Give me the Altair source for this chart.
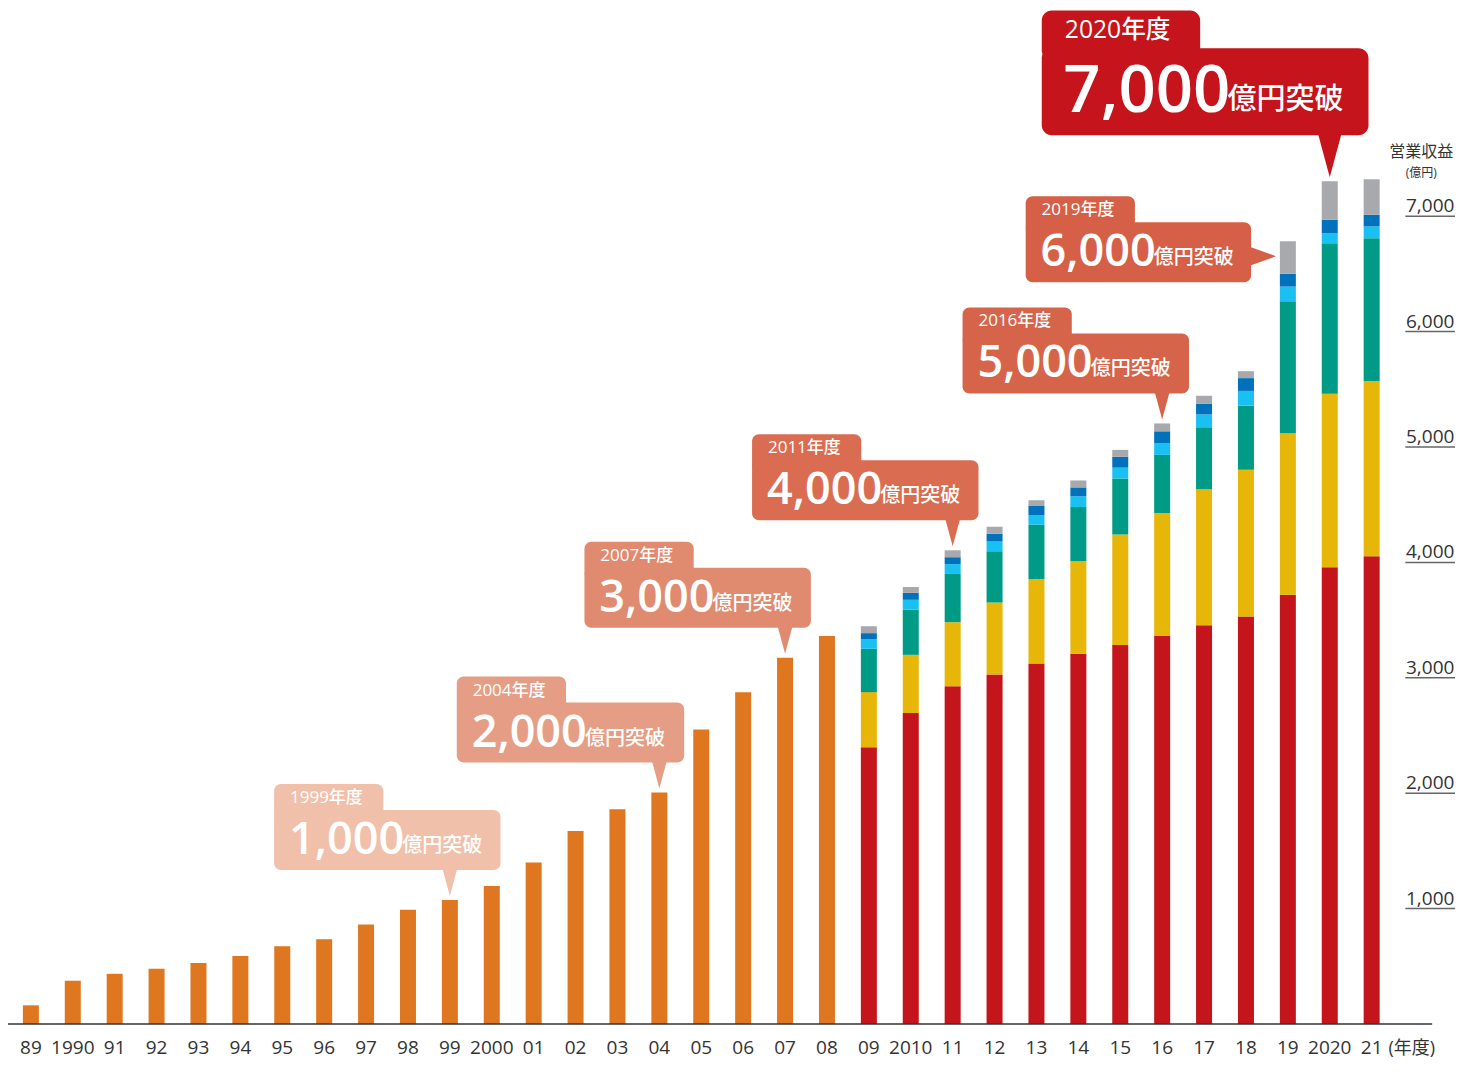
import altair as alt
import pandas as pd

# ---------------- data ----------------
years = list(range(1989, 2022))
year_labels = ["89", "1990", "91", "92", "93", "94", "95", "96", "97", "98", "99",
               "2000", "01", "02", "03", "04", "05", "06", "07", "08", "09",
               "2010", "11", "12", "13", "14", "15", "16", "17", "18", "19", "2020", "21"]

# 1989-2008 single (orange) bars
orange_years = years[:20]
orange_values = [162, 375, 435, 478, 529, 589, 674, 734, 862, 990, 1075, 1195,
                 1399, 1672, 1860, 2005, 2551, 2875, 3174, 3362]

# 2009-2021 stacked segments (bottom -> top)
seg_years = years[20:]
seg_red = [2398, 2696, 2927, 3029, 3123, 3208, 3285, 3362, 3456, 3532, 3720, 3959, 4053]
seg_yellow = [478, 503, 555, 623, 734, 802, 956, 1067, 1177, 1271, 1399, 1502, 1519]
seg_teal = [375, 392, 418, 444, 469, 469, 486, 503, 538, 555, 1143, 1305, 1237]
seg_cyan = [85, 85, 85, 85, 85, 94, 94, 102, 111, 128, 128, 85, 102]
seg_blue = [51, 60, 60, 68, 77, 77, 94, 102, 94, 111, 111, 119, 102]
seg_gray = [60, 51, 60, 60, 51, 60, 60, 68, 68, 60, 282, 333, 307]

right_ticks = [1000, 2000, 3000, 4000, 5000, 6000, 7000]
right_tick_labels = ["1,000", "2,000", "3,000", "4,000", "5,000", "6,000", "7,000"]

callout_years = [1999, 2004, 2007, 2011, 2016, 2019, 2020]
callout_year_text = ["1999年度", "2004年度", "2007年度", "2011年度", "2016年度", "2019年度", "2020年度"]
callout_numbers = ["1,000", "2,000", "3,000", "4,000", "5,000", "6,000", "7,000"]
callout_unit = "億円突破"

# ---------------- styles / layout ----------------
FONT = "Open Sans, Noto Sans CJK JP, sans-serif"
seg_domain = ["total", "red", "yellow", "teal", "cyan", "blue", "gray"]
seg_colors = ["#DE771F", "#C4141C", "#E6B609", "#009B86", "#18C1F1", "#0072BB", "#A8A9AD"]
callout_colors = ["#F0C0AB", "#E59E85", "#E08A70", "#DA6D51", "#D6644A", "#D66047", "#C5141B"]
# (left, right) of the box relative to pointer tip in px, scale factor, gap tip->box
callout_geom = [(-177, 51, 1.0, 26), (-204, 25, 1.0, 26), (-202, 26, 1.0, 26),
                (-202, 26, 1.0, 26), (-201, 27, 1.0, 26), (None, None, 1.0, 26),
                (-290, 39, 1.45, 42)]

W, H = 1452, 1016
PXY = 42.19      # px per year
PXV = 0.1154     # px per unit (億円)
X0 = 1989 - 18 / PXY
X1 = X0 + W / PXY
YMAX = H / PXV


def px_x(d):
    return d / PXY


def px_v(d):
    return d / PXV


xs = alt.Scale(domain=[X0, X1], nice=False, zero=False)
ys = alt.Scale(domain=[0, YMAX], nice=False, zero=True)


def X(field):
    return alt.X(field, scale=xs, axis=None, title=None)


def Y(field, **kw):
    return alt.Y(field, scale=ys, axis=None, title=None, **kw)


# ---------------- bar table ----------------
rows = []
totals = {}
for y, v in zip(orange_years, orange_values):
    rows.append(dict(year=y, seg="total", ord=0, value=v))
    totals[y] = v
segs = [("red", seg_red), ("yellow", seg_yellow), ("teal", seg_teal),
        ("cyan", seg_cyan), ("blue", seg_blue), ("gray", seg_gray)]
for i, y in enumerate(seg_years):
    t = 0
    for k, (name, arr) in enumerate(segs):
        rows.append(dict(year=y, seg=name, ord=k, value=arr[i]))
        t += arr[i]
    totals[y] = t
bars_df = pd.DataFrame(rows)

bars = alt.Chart(bars_df).mark_bar(width=16).encode(
    x=X("year:Q"),
    y=Y("value:Q", stack="zero"),
    color=alt.Color("seg:N", scale=alt.Scale(domain=seg_domain, range=seg_colors), legend=None),
    order=alt.Order("ord:Q", sort="ascending"),
)

# x tick labels as text
xl_df = pd.DataFrame(dict(year=years, t=year_labels, v=0))
xlabels = alt.Chart(xl_df).mark_text(align="center", baseline="alphabetic", dy=30,
                                     fontSize=19, font=FONT, color="#333333").encode(
    x=X("year:Q"), y=Y("v:Q"), text="t:N")

# baseline
base_df = pd.DataFrame([dict(xa=X0 - px_x(8), xb=X0 + px_x(1429), v=0)])
baseline = alt.Chart(base_df).mark_rule(color="#333333", strokeWidth=1.6).encode(
    x=X("xa:Q"), x2="xb:Q", y=Y("v:Q"))

# "(年度)"
unit_x_df = pd.DataFrame([dict(x=1989 + px_x(1393 - 26), v=0, t="(年度)")])
unit_x = alt.Chart(unit_x_df).mark_text(align="left", baseline="alphabetic", dy=30,
                                         fontSize=18, font=FONT, color="#333333").encode(
    x=X("x:Q"), y=Y("v:Q"), text="t:N")

# right axis labels with underline
rt_df = pd.DataFrame(dict(v=right_ticks, t=right_tick_labels))
rt_df["xa"] = 1989 + px_x(1410 - 26)
rt_df["xb"] = 1989 + px_x(1460 - 26)
rt_df["xc"] = 1989 + px_x(1435 - 26)
rt_rules = alt.Chart(rt_df).mark_rule(color="#666666", strokeWidth=1.5).encode(
    x=X("xa:Q"), x2="xb:Q", y=Y("v:Q"))
rt_text = alt.Chart(rt_df).mark_text(align="center", baseline="alphabetic", dy=-4,
                                     fontSize=19, font=FONT, color="#333333").encode(
    x=X("xc:Q"), y=Y("v:Q"), text="t:N")

ytitle_df = pd.DataFrame([
    dict(x=1989 + px_x(1426 - 26), v=right_ticks[-1] + px_v(64), t="営業収益", fs=16),
    dict(x=1989 + px_x(1426 - 26), v=right_ticks[-1] + px_v(43), t="(億円)", fs=12),
])
ytitle = alt.Chart(ytitle_df).mark_text(align="center", baseline="middle", font=FONT,
                                        color="#333333").encode(
    x=X("x:Q"), y=Y("v:Q"), text="t:N",
    size=alt.Size("fs:Q", scale=None, legend=None))

# ---------------- callouts ----------------
box_rows, tab_rows, tip_rows, yr_rows, num_rows, unit_rows = [], [], [], [], [], []
for yr, ytxt, num, col, (l, r, s, gap) in zip(callout_years, callout_year_text,
                                              callout_numbers, callout_colors, callout_geom):
    tot = totals[yr]
    if l is None:  # right-pointing pointer
        tx = yr - px_x(12)
        tv = tot - px_v(15)
        xr = tx - px_x(25)
        xl = tx - px_x(252)
        bottom = tv - px_v(26)
        d = "right"
    else:
        tx = yr
        tv = tot + px_v(4)
        xl = tx + px_x(l)
        xr = tx + px_x(r)
        bottom = tv + px_v(gap)
        d = "down"
    top = bottom + px_v(60 * s)
    big = s > 1.2
    box_rows.append(dict(x0=xl, x1=xr, y0=bottom, y1=top, color=col, big=big))
    tab_rows.append(dict(x0=xl, x1=xl + px_x(110 * s), y0=top - px_v(12), y1=top + px_v(26 * s),
                         color=col, big=big))
    if d == "down":
        tip_rows.append(dict(x=tx, v=tv, color=col, size=(2 * (gap + 4)) ** 2, d=d))
    else:
        tip_rows.append(dict(x=tx, v=tv, color=col, size=(2 * 29) ** 2, d=d))
    yr_rows.append(dict(x=xl + px_x(16 * s), v=top + px_v(12 * s), t=ytxt, fs=17 * s))
    num_rows.append(dict(x=xl + px_x(15 * s), v=bottom + px_v(16 * s), t=num, fs=45 * s))
    unit_rows.append(dict(x=xl + px_x(129 * s), v=bottom + px_v(18 * s), t=callout_unit, fs=20 * s))

box_df = pd.DataFrame(box_rows)
tab_df = pd.DataFrame(tab_rows)
tip_df = pd.DataFrame(tip_rows)


def rect_layer(df, radius):
    return alt.Chart(df).mark_rect(cornerRadius=radius).encode(
        x=X("x0:Q"), x2="x1:Q", y=Y("y0:Q"), y2="y1:Q",
        color=alt.Color("color:N", scale=None, legend=None))


tabs_small = rect_layer(tab_df[~tab_df.big], 7)
tabs_big = rect_layer(tab_df[tab_df.big], 10)
boxes_small = rect_layer(box_df[~box_df.big], 7)
boxes_big = rect_layer(box_df[box_df.big], 10)

tips_down = alt.Chart(tip_df[tip_df.d == "down"]).mark_point(
    shape="M0,0L-0.27,-1L0.27,-1Z", filled=True, opacity=1, strokeWidth=0).encode(
    x=X("x:Q"), y=Y("v:Q"),
    color=alt.Color("color:N", scale=None, legend=None),
    size=alt.Size("size:Q", scale=None, legend=None))
tips_right = alt.Chart(tip_df[tip_df.d == "right"]).mark_point(
    shape="M0,0L-1,-0.36L-1,0.36Z", filled=True, opacity=1, strokeWidth=0).encode(
    x=X("x:Q"), y=Y("v:Q"),
    color=alt.Color("color:N", scale=None, legend=None),
    size=alt.Size("size:Q", scale=None, legend=None))


def text_layer(rows, baseline, weight):
    return alt.Chart(pd.DataFrame(rows)).mark_text(
        align="left", baseline=baseline, font=FONT, fontWeight=weight, color="white").encode(
        x=X("x:Q"), y=Y("v:Q"),
        text="t:N", size=alt.Size("fs:Q", scale=None, legend=None))


yr_text = text_layer(yr_rows, "middle", 500)
num_text = text_layer(num_rows, "alphabetic", 600)
unit_text = text_layer(unit_rows, "alphabetic", 500)

chart = alt.layer(
    bars, baseline, xlabels, unit_x, rt_rules, rt_text, ytitle,
    tabs_small, tabs_big, boxes_small, boxes_big, tips_down, tips_right,
    yr_text, num_text, unit_text,
).properties(
    width=W, height=H,
    autosize=alt.AutoSizeParams(type="none"),
    padding={"left": 0, "top": 0, "right": 0, "bottom": 38},
).configure(background="white").configure_view(stroke=None)

chart.save("out.html", embed_options={"renderer": "svg", "actions": False})
